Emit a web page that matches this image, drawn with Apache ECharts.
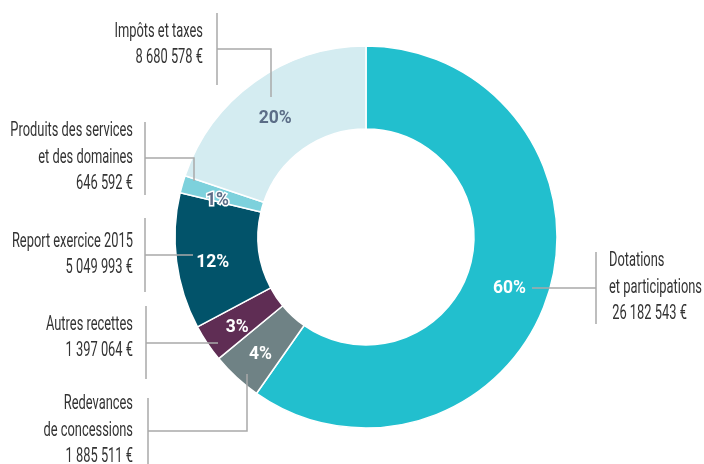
<!DOCTYPE html>
<html>
<head>
<meta charset="utf-8">
<script src="https://cdn.jsdelivr.net/npm/echarts@6/dist/echarts.min.js"></script>
<style>
  html, body { margin: 0; padding: 0; background: #fff; }
  #chart { width: 704px; height: 464px; }
</style>
</head>
<body>
<div id="chart"></div>
<script>
// recettes, clockwise from 12 o'clock
const names = [
  'Dotations\net participations',
  'Redevances\nde concessions',
  'Autres recettes',
  'Report exercice 2015',
  'Produits des services\net des domaines',
  'Impôts et taxes'
];
const values = [26182543, 1885511, 1397064, 5049993, 646592, 8680578];
const colors = ['#22bfce', '#6f8285', '#5f2d54', '#02536a', '#7dd1dc', '#d4ecf1'];
const pctColors = ['#fff', '#fff', '#fff', '#fff', '#5b6d87', '#5b6d87'];

// where each outer label sits, and the bracket + leader line drawn to it
const labelPos = [
  { x: 609, y: 288, align: 'left',  bar: [596, 252, 324], line: [[596, 288], [532, 288]] },
  { x: 133, y: 431, align: 'right', bar: [148, 398, 470], line: [[148, 431], [247, 431], [247, 374]] },
  { x: 133, y: 338, align: 'right', bar: [146, 306, 379], line: [[146, 343], [218, 343]] },
  { x: 133, y: 255, align: 'right', bar: [145, 218, 292], line: [[145, 255], [193, 255]] },
  { x: 133, y: 158, align: 'right', bar: [145, 122, 195], line: [[145, 158], [194, 158], [194, 181]] },
  { x: 203, y: 45,  align: 'right', bar: [217, 13, 85],   line: [[217, 49], [271, 49], [271, 97]] }
];

function euros(v) {
  return String(v).replace(/\B(?=(\d{3})+(?!\d))/g, ' ') + ' €';
}

const font = 'Roboto';
const chart = echarts.init(document.getElementById('chart'));

// outer labels: condensed text + bracket and leader lines
const graphics = [];
names.forEach((n, i) => {
  const l = labelPos[i];
  graphics.push({
    type: 'polyline',
    silent: true,
    z: 10,
    shape: { points: [[l.bar[0], l.bar[1]], [l.bar[0], l.bar[2]]].concat(l.line) },
    style: { stroke: '#a9a9a9', lineWidth: 1.5, fill: null }
  });
  graphics.push({
    type: 'text',
    silent: true,
    z: 10,
    x: l.x,
    y: l.y,
    scaleX: 0.66,
    style: {
      text: n + '\n' + (i === 0 ? ' ' : '') + euros(values[i]),
      fontFamily: font,
      fontSize: 19.5,
      lineHeight: 26.5,
      fill: '#333',
      align: l.align,
      verticalAlign: 'middle'
    }
  });
});

chart.setOption({
  animation: false,
  graphic: graphics,
  series: [
    {
      type: 'pie',
      center: [366, 237],
      radius: [108, 191],
      startAngle: 90,
      clockwise: true,
      percentPrecision: 0,
      avoidLabelOverlap: false,
      itemStyle: { borderColor: '#fff', borderWidth: 1.5 },
      label: {
        position: 'inside',
        offset: [-2, 6],
        formatter: '{d}%',
        fontFamily: font,
        fontWeight: 'bold',
        fontSize: 17.5
      },
      emphasis: { disabled: true },
      data: names.map((n, i) => ({
        name: n,
        value: values[i],
        itemStyle: { color: colors[i] },
        label: {
          color: pctColors[i],
          textBorderColor: i === 4 ? '#fff' : 'transparent',
          textBorderWidth: i === 4 ? 3 : 0
        }
      }))
    }
  ]
});
</script>
</body>
</html>
